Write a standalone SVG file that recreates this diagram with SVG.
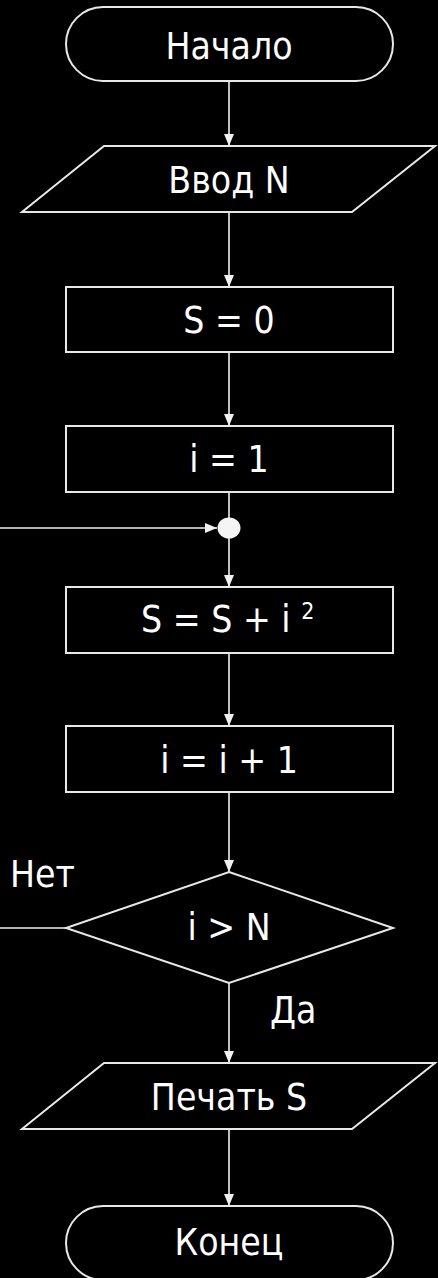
<svg xmlns="http://www.w3.org/2000/svg" width="438" height="1278" viewBox="0 0 438 1278">
<style>
.shape{fill:#000;stroke:#e8e8e8;stroke-width:2}
.conn{fill:none;stroke:#f0f0f0;stroke-width:1.6}
text{font-family:"DejaVu Sans","Liberation Sans",sans-serif;font-stretch:condensed;font-size:37px;fill:#fff;text-anchor:middle}
.lbl{text-anchor:start}
.sup{font-size:23px}
</style>
<defs>
<marker id="ah" markerUnits="userSpaceOnUse" markerWidth="12" markerHeight="10" refX="12" refY="5" orient="auto">
<path d="M0,0 L12,5 L0,10 Z" fill="#f0f0f0"/>
</marker>
</defs>
<rect width="438" height="1278" fill="#000"/>
<g id="connectors">
<line class="conn" x1="229" y1="81" x2="229" y2="146" marker-end="url(#ah)"/>
<line class="conn" x1="229" y1="212" x2="229" y2="287" marker-end="url(#ah)"/>
<line class="conn" x1="229" y1="352" x2="229" y2="426" marker-end="url(#ah)"/>
<line class="conn" x1="229" y1="492" x2="229" y2="518"/>
<line class="conn" x1="229" y1="538" x2="229" y2="587" marker-end="url(#ah)"/>
<line class="conn" x1="0" y1="528" x2="217" y2="528" marker-end="url(#ah)"/>
<line class="conn" x1="229" y1="653" x2="229" y2="726" marker-end="url(#ah)"/>
<line class="conn" x1="229" y1="792" x2="229" y2="872" marker-end="url(#ah)"/>
<line class="conn" x1="66" y1="928" x2="0" y2="928"/>
<line class="conn" x1="229" y1="983" x2="229" y2="1063" marker-end="url(#ah)"/>
<line class="conn" x1="229" y1="1129" x2="229" y2="1206" marker-end="url(#ah)"/>
<text class="lbl" x="10" y="887">Нет</text>
<text class="lbl" x="270" y="1023">Да</text>
</g>
<g id="start">
<rect class="shape" x="66" y="7" width="327" height="74" rx="37" ry="37"/>
<text x="229" y="59">Начало</text>
</g>
<g id="input">
<polygon class="shape" points="104,146 435,146 352,212 22,212"/>
<text x="229" y="193">Ввод N</text>
</g>
<g id="s0">
<rect class="shape" x="66" y="287" width="327" height="65"/>
<text x="229" y="333">S = 0</text>
</g>
<g id="i1">
<rect class="shape" x="66" y="426" width="327" height="66"/>
<text x="229" y="472">i = 1</text>
</g>
<g id="junction">
<ellipse cx="229" cy="528" rx="11.5" ry="10.5" fill="#f5f5f5"/>
</g>
<g id="sum">
<rect class="shape" x="66" y="587" width="327" height="66"/>
<text class="lbl" x="141" y="632">S = S + i <tspan class="sup" dy="-13">2</tspan></text>
</g>
<g id="inc">
<rect class="shape" x="66" y="726" width="327" height="66"/>
<text x="229" y="773">i = i + 1</text>
</g>
<g id="cond">
<polygon class="shape" points="229,872 393,928 229,983 66,928"/>
<text x="229" y="940">i &gt; N</text>
</g>
<g id="output">
<polygon class="shape" points="104,1063 435,1063 352,1129 22,1129"/>
<text x="229" y="1110">Печать S</text>
</g>
<g id="end">
<rect class="shape" x="66" y="1206" width="327" height="74" rx="37" ry="37"/>
<text x="229" y="1255">Конец</text>
</g>
</svg>
